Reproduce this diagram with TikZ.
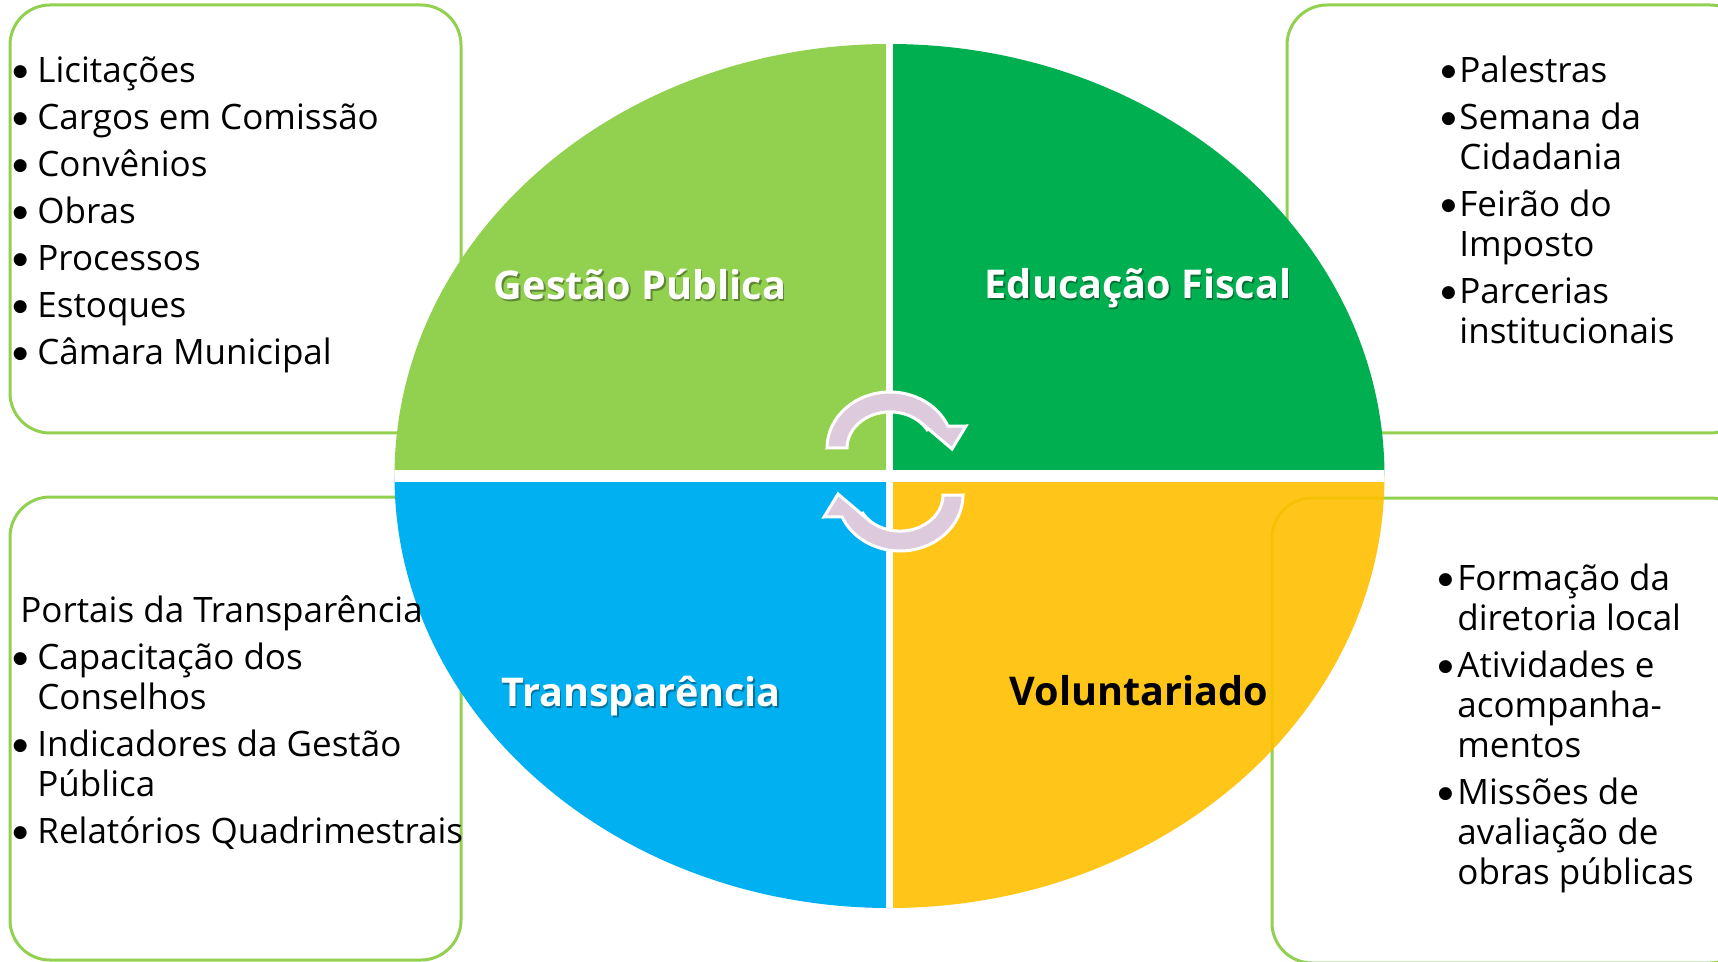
\documentclass[tikz,border=0pt]{standalone}
\usepackage{fontspec}
\setmainfont{Open Sans}
\newfontfamily\dejavu{DejaVu Sans}
\usepackage{array}
\definecolor{lgreen}{RGB}{146,208,80}
\definecolor{dgreen}{RGB}{0,176,80}
\definecolor{cblue}{RGB}{0,176,240}
\definecolor{cyellow}{RGB}{255,192,0}
\definecolor{lilac}{RGB}{221,203,221}
\newcommand\lstfont{\fontsize{17.5pt}{20pt}\selectfont}
\newcommand\lblfont{\fontsize{19.8pt}{22pt}\selectfont\bfseries}
\newcommand\bul{\smash{\makebox[0pt][c]{\raisebox{3pt}{\fontsize{8.5pt}{10pt}\dejavu ●}}}}
\begin{document}
\begin{tikzpicture}[x=0.5pt,y=-0.5pt,
  box/.style={draw=lgreen, line width=1.5pt, rounded corners=20pt},
  lst/.style={font=\lstfont, inner sep=0pt, anchor=base west, align=left},
  lbl/.style={font=\lblfont, inner sep=0pt, anchor=base},
  shd/.style={font=\lblfont, inner sep=0pt, anchor=base, text=black, text opacity=0.35},
  cyc/.style={fill=lilac, draw=white, line width=1.5pt, line join=miter}]
\useasboundingbox (0,0) rectangle (1718,962);
\clip (0,0) rectangle (1718,962);
\fill[white] (0,0) rectangle (1718,962);
% boxes
\draw[box] (10,5) rectangle (461,433);
\draw[box] (1287,5) rectangle (1750,433);
\draw[box] (10,497) rectangle (461,960);
\draw[box] (1272,498) rectangle (1750,963);
% quadrants
\begin{scope}
  \clip (889.5,476) ellipse [x radius=495, y radius=432];
  \fill[lgreen] (380,30) rectangle (889.5,476);
  \fill[dgreen] (889.5,30) rectangle (1400,476);
  \fill[cblue] (380,476) rectangle (889.5,930);
  \fill[cyellow, fill opacity=0.9] (889.5,476) rectangle (1400,930);
  \fill[white] (885.8,30) rectangle (893.2,930);
  \fill[white] (380,470.2) rectangle (1400,481.8);
\end{scope}
% cycle arrows
\coordinate (ac) at (895,471.5);
\path[cyc] (827,448) arc[start angle=180, end angle=337, x radius=63, y radius=56]
  -- (966,426) -- (952,449) -- (925,426) -- (928,431)
  arc[start angle=332, end angle=180, x radius=43, y radius=36] -- cycle;
\begin{scope}[rotate around={180:(ac)}]
\path[cyc] (827,448) arc[start angle=180, end angle=337, x radius=63, y radius=56]
  -- (966,426) -- (952,449) -- (925,426) -- (928,431)
  arc[start angle=332, end angle=180, x radius=43, y radius=36] -- cycle;
\end{scope}
% quadrant labels
\node[shd] (gpS) at (641.5,302) {Gestão Pública};
\node[lbl, text=white] (gp) at (640,300) {Gestão Pública};
\node[shd] (efS) at (1139.5,301) {Educação Fiscal};
\node[lbl, text=white] (ef) at (1138,299) {Educação Fiscal};
\node[shd] (trS) at (642.5,708) {Transparência};
\node[lbl, text=white] (tr) at (641,706) {Transparência};
\node[lbl, text=black] (vo) at (1139,705) {Voluntariado};
% lists
\node[lst] (tlL) at (20,83) {\begin{tabular}[t]{@{}p{8.5pt}@{}l@{}}
\bul & Licitações\\[3.5pt]
\bul & Cargos em Comissão\\[3.5pt]
\bul & Convênios\\[3.5pt]
\bul & Obras\\[3.5pt]
\bul & Processos\\[3.5pt]
\bul & Estoques\\[3.5pt]
\bul & Câmara Municipal
\end{tabular}};
\node[lst] (trL) at (1448,83) {\begin{tabular}[t]{@{}p{5.5pt}@{}l@{}}
\bul & Palestras\\[3.5pt]
\bul & Semana da\\
  & Cidadania\\[3.5pt]
\bul & Feirão do\\
  & Imposto\\[3.5pt]
\bul & Parcerias\\
  & institucionais
\end{tabular}};
\node[lst] (blL) at (20,622) {\begin{tabular}[t]{@{}p{8.5pt}@{}l@{}}
\multicolumn{2}{@{}l@{}}{Portais da Transparência}\\[3.5pt]
\bul & Capacitação dos\\
  & Conselhos\\[3.5pt]
\bul & Indicadores da Gestão\\
  & Pública\\[3.5pt]
\bul & Relatórios Quadrimestrais
\end{tabular}};
\node[lst] (brL) at (1445,590) {\begin{tabular}[t]{@{}p{6pt}@{}l@{}}
\bul & Formação da\\
  & diretoria local\\[3.5pt]
\bul & Atividades e\\
  & acompanha-\\
  & mentos\\[3.5pt]
\bul & Missões de\\
  & avaliação de\\
  & obras públicas
\end{tabular}};
\end{tikzpicture}
\end{document}
